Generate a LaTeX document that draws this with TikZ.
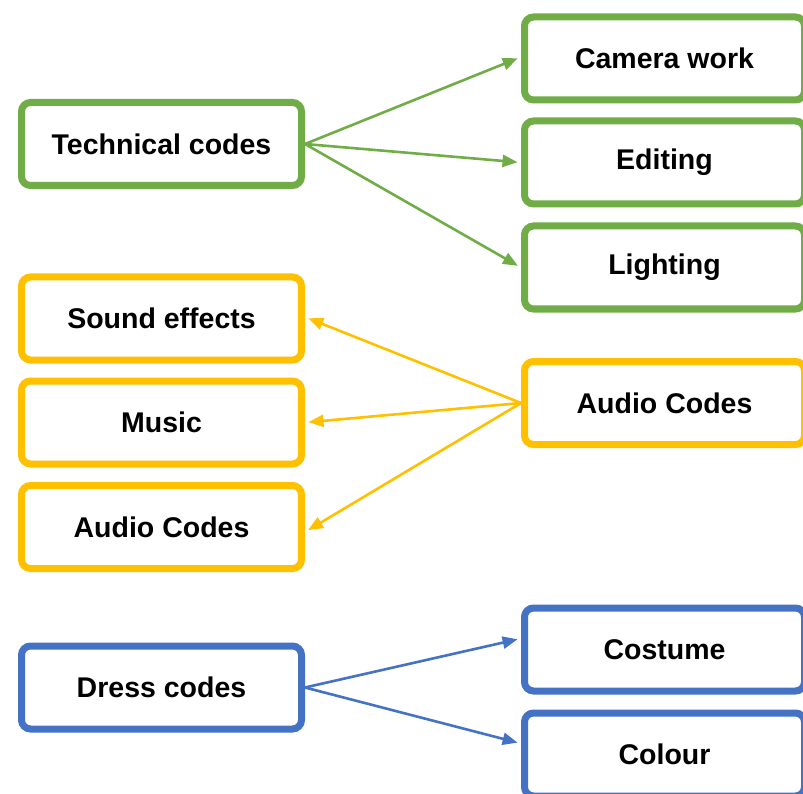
\documentclass[tikz,border=0pt]{standalone}
\usepackage{fontspec}
\setmainfont{Liberation Sans}
\usetikzlibrary{arrows.meta}
\definecolor{cgreen}{HTML}{70AD47}
\definecolor{cyellow}{HTML}{FFC000}
\definecolor{cblue}{HTML}{4472C4}
\tikzset{
  box/.style={draw=#1, line width=7pt, rounded corners=9pt, fill=white,
    minimum width=280pt, minimum height=83pt, inner sep=0pt,
    font=\fontsize{28.5}{31}\selectfont\bfseries, text=black},
  link/.style={draw=#1, line width=2.6pt, shorten >=3.5pt, shorten <=-3pt,
    -{Triangle[length=15pt,width=12pt]}},
}
\begin{document}
\begin{tikzpicture}[x=1pt,y=-1pt]
\useasboundingbox (0,0) rectangle (803,794);
% green group
\node[box=cgreen] (tech) at (161.5,144) {Technical codes};
\node[box=cgreen] (cam) at (664.5,58.5) {Camera work};
\node[box=cgreen] (edit) at (664.5,162.5) {Editing};
\node[box=cgreen] (light) at (664.5,267.5) {Lighting};
% yellow group
\node[box=cyellow] (sound) at (161.5,318.5) {Sound effects};
\node[box=cyellow] (music) at (161.5,422.5) {Music};
\node[box=cyellow] (audl) at (161.5,527) {Audio Codes};
\node[box=cyellow] (audr) at (664.5,403) {Audio Codes};
% blue group
\node[box=cblue] (dress) at (161.5,687.5) {Dress codes};
\node[box=cblue] (cost) at (664.5,649.5) {Costume};
\node[box=cblue] (col) at (664.5,754.5) {Colour};
% connectors
\draw[link=cgreen] (tech.east) -- ([yshift=1.5pt]cam.west);
\draw[link=cgreen] (tech.east) -- (edit.west);
\draw[link=cgreen] (tech.east) -- (light.west);
\draw[link=cyellow] (audr.west) -- ([yshift=1.5pt]sound.east);
\draw[link=cyellow] (audr.west) -- (music.east);
\draw[link=cyellow] (audr.west) -- ([yshift=-5pt]audl.east);
\draw[link=cblue] (dress.east) -- ([yshift=11pt]cost.west);
\draw[link=cblue] (dress.east) -- ([yshift=11pt]col.west);
\end{tikzpicture}
\end{document}
